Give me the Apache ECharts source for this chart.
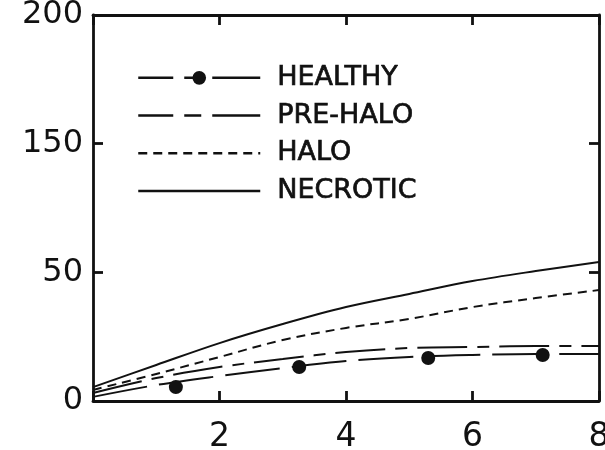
<!DOCTYPE html>
<html>
<head>
<meta charset="utf-8">
<script src="https://cdn.jsdelivr.net/npm/echarts@6/dist/echarts.min.js"></script>
<style>html,body{margin:0;padding:0;background:#fff;}#c{width:605px;height:450px;}</style>
</head>
<body>
<div id="c"></div>
<script>
// X positions of curve samples
var xs = [0, 1, 2, 3, 4, 5, 6, 7, 8];
// Y axis: equally spaced ticks carrying these labels (as printed on the original)
var yTickLabels = ['0', '50', '150', '200'];
var xTickLabels = ['', '2', '4', '6', '8'];
// Curves (values in axis units, where each tick interval = 50)
var healthy  = [1.6, 6.2, 9.7, 12.8, 15.5, 17.1, 17.9, 18.3, 18.3];
var preHalo  = [3.1, 8.9, 13.2, 16.3, 19.0, 20.6, 21.0, 21.4, 21.4];
var halo     = [4.3, 10.5, 17.1, 23.7, 28.4, 31.9, 36.5, 40.0, 43.1];
var necrotic = [5.4, 14.0, 22.5, 29.9, 36.5, 41.6, 46.6, 50.5, 54.0];
// Measured healthy points
var healthyPtsX = [1.31, 3.26, 5.30, 7.11];
var healthyPtsY = [5.4, 13.2, 16.7, 17.9];

function pairs(x, y) { return x.map(function (v, i) { return [v, y[i]]; }); }

var ink = '#111';
var axisCommon = {
  axisLine: {show: true, onZero: false, lineStyle: {color: ink, width: 2.8}},
  axisTick: {show: true, inside: true, length: 10, lineStyle: {color: ink, width: 2.8}},
  splitLine: {show: false}
};
function ax(extra) { return Object.assign({}, axisCommon, extra); }

var chart = echarts.init(document.getElementById('c'), null, {renderer: 'canvas'});
chart.setOption({
  backgroundColor: '#fff',
  animation: false,
  grid: {left: 93, right: 6, top: 15, bottom: 49, outerBoundsMode: 'none', containLabel: false},
  legend: {
    orient: 'vertical', left: 137, top: 64, padding: 0,
    itemWidth: 122, itemHeight: 17, itemGap: 10,
    textStyle: {color: ink, fontSize: 27, fontFamily: 'DejaVu Sans', lineHeight: 26, padding: [0, 0, 0, 12],
      textBorderColor: ink, textBorderWidth: 0.7},
    data: [
      {name: 'HEALTHY', lineStyle: {type: [35, 11, 17, 11, 48, 10], width: 2.5}},
      {name: 'PRE-HALO', itemStyle: {opacity: 0}, lineStyle: {type: [35, 11, 17, 11, 48, 10], width: 2.5}},
      {name: 'HALO', itemStyle: {opacity: 0}, lineStyle: {width: 2.5}},
      {name: 'NECROTIC', itemStyle: {opacity: 0}, lineStyle: {width: 2.5}}
    ]
  },
  xAxis: [ax({
    type: 'value', min: 0, max: 8, interval: 2, position: 'bottom',
    axisLabel: {color: ink, fontSize: 33, fontFamily: 'DejaVu Sans', margin: 20,
      formatter: function (v) { return xTickLabels[Math.round(v / 2)]; }}
  }), ax({
    type: 'value', min: 0, max: 8, interval: 2, position: 'top',
    axisLabel: {show: false}
  })],
  yAxis: [ax({
    type: 'value', min: 0, max: 150, interval: 50, position: 'left',
    axisLabel: {color: ink, fontSize: 32, fontFamily: 'DejaVu Sans', margin: 10,
      formatter: function (v) { return yTickLabels[Math.round(v / 50)]; }}
  }), ax({
    type: 'value', min: 0, max: 150, interval: 50, position: 'right',
    axisLabel: {show: false}
  })],
  series: [{
    name: 'HEALTHY', type: 'line', smooth: 0.35, showSymbol: false, symbol: 'circle',
    data: pairs(xs, healthy), itemStyle: {color: ink},
    lineStyle: {color: ink, width: 2, type: [55, 12]}
  }, {
    name: 'PRE-HALO', type: 'line', smooth: 0.35, showSymbol: false, symbol: 'none',
    data: pairs(xs, preHalo), itemStyle: {color: ink},
    lineStyle: {color: ink, width: 2, type: [50, 10, 12, 10]}
  }, {
    name: 'HALO', type: 'line', smooth: 0.35, showSymbol: false, symbol: 'none',
    data: pairs(xs, halo), itemStyle: {color: ink},
    lineStyle: {color: ink, width: 2, type: [9, 6]}
  }, {
    name: 'NECROTIC', type: 'line', smooth: 0.35, showSymbol: false, symbol: 'none',
    data: pairs(xs, necrotic), itemStyle: {color: ink},
    lineStyle: {color: ink, width: 2, type: 'solid'}
  }, {
    name: 'healthy points', type: 'scatter', symbol: 'circle', symbolSize: 14,
    data: pairs(healthyPtsX, healthyPtsY), itemStyle: {color: ink, opacity: 1}, z: 5
  }]
});
</script>
</body>
</html>
